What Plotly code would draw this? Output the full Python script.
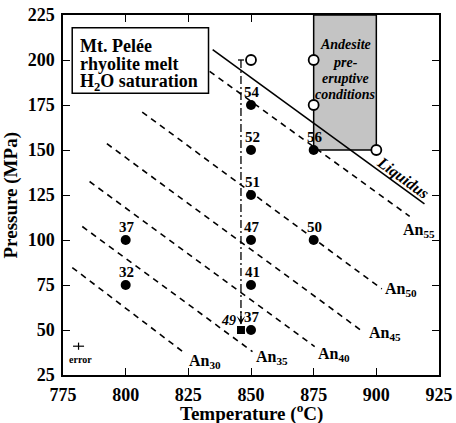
import plotly.graph_objects as go

# ---------------- data ----------------
filled_T = [800, 800, 850, 850, 850, 850, 850, 850, 875, 875]
filled_P = [100, 75, 175, 150, 125, 100, 75, 50, 150, 100]
filled_lbl = ["37", "32", "54", "52", "51", "47", "41", "37", "56", "50"]

open_T = [850, 875, 875, 900]
open_P = [200, 200, 175, 150]

square_T = [846]
square_P = [50]
square_lbl = ["49"]

# An isopleths: start / end (T, P)
iso_names = ["An<sub>30</sub>", "An<sub>35</sub>", "An<sub>40</sub>", "An<sub>45</sub>", "An<sub>50</sub>", "An<sub>55</sub>"]
iso_T0 = [778.7, 782.7, 785.6, 792.5, 806.6, 833.5]
iso_P0 = [84.7, 107.5, 132.5, 153.5, 171.1, 193.7]
iso_T1 = [823.5, 850.6, 875.4, 894.6, 902.2, 913.3]
iso_P1 = [37.2, 38.0, 40.8, 49.1, 72.8, 113.1]
iso_lblT = [831.5, 858.5, 883.0, 903.5, 910.0, 917.0]
iso_lblP = [32.5, 35.0, 36.5, 48.0, 72.3, 105.3]

liq_T = [834.7, 919.2]
liq_P = [205.8, 120.1]

vline_T = [846, 846]
vline_P = [200, 53]

box_T = [875, 900]
box_P = [150, 225]

andesite_lines = ["Andesite", "pre-", "eruptive", "conditions"]
andesite_P = [208.6, 198.6, 189.7, 180.8]

title_lines = ["Mt. Pelée", "rhyolite melt", "H<sub>2</sub>O saturation"]

err_T, err_P, err_dT, err_dP = 781.2, 41.0, 2.2, 2.0

x_ticks = [775, 800, 825, 850, 875, 900, 925]
y_ticks = [25, 50, 75, 100, 125, 150, 175, 200, 225]

font_fam = "Liberation Serif, Times New Roman, serif"
fig = go.Figure()

# grey pre-eruptive box
fig.add_shape(type="rect", x0=box_T[0], x1=box_T[1], y0=box_P[0], y1=box_P[1],
              fillcolor="#c4c4c4", line=dict(color="black", width=1.5), layer="below")

# isopleths
for i in range(len(iso_names)):
    fig.add_trace(go.Scatter(x=[iso_T0[i], iso_T1[i]], y=[iso_P0[i], iso_P1[i]], mode="lines",
                             line=dict(color="black", width=1.6, dash="6px,5px"),
                             showlegend=False, hoverinfo="skip"))
    fig.add_annotation(x=iso_lblT[i], y=iso_lblP[i], text="<b>" + iso_names[i] + "</b>",
                       showarrow=False, font=dict(family=font_fam, size=16, color="black"))

# liquidus
fig.add_trace(go.Scatter(x=liq_T, y=liq_P, mode="lines", line=dict(color="black", width=1.6),
                         showlegend=False, hoverinfo="skip"))
fig.add_annotation(x=910.6, y=134.5, text="<b><i>Liquidus</i></b>", showarrow=False, textangle=36,
                   font=dict(family=font_fam, size=16, color="black"))

# vertical dash-dot line with cap and arrow
fig.add_trace(go.Scatter(x=vline_T, y=vline_P, mode="lines",
                         line=dict(color="black", width=1.3, dash="8px,3px,2px,3px"),
                         showlegend=False, hoverinfo="skip"))
fig.add_trace(go.Scatter(x=[vline_T[0] - 1.2, vline_T[0] + 1.2], y=[vline_P[0], vline_P[0]], mode="lines",
                         line=dict(color="black", width=1.3), showlegend=False, hoverinfo="skip"))
fig.add_annotation(x=vline_T[1], y=vline_P[1], ax=vline_T[1], ay=vline_P[1] + 8, axref="x", ayref="y",
                   xref="x", yref="y", showarrow=True, arrowhead=3, arrowsize=1.2, arrowwidth=1.2,
                   arrowcolor="black", text="")

# filled points
fig.add_trace(go.Scatter(x=filled_T, y=filled_P, mode="markers",
                         marker=dict(color="black", size=10, symbol="circle"),
                         showlegend=False, hoverinfo="skip"))
for t, p, l in zip(filled_T, filled_P, filled_lbl):
    fig.add_annotation(x=t, y=p, text="<b>" + l + "</b>", showarrow=False, yshift=13, xshift=1,
                       font=dict(family=font_fam, size=15, color="black"))

# open points
fig.add_trace(go.Scatter(x=open_T, y=open_P, mode="markers",
                         marker=dict(color="white", size=10, symbol="circle",
                                     line=dict(color="black", width=1.8)),
                         showlegend=False, hoverinfo="skip"))

# square
fig.add_trace(go.Scatter(x=square_T, y=square_P, mode="markers",
                         marker=dict(color="black", size=8, symbol="square"),
                         showlegend=False, hoverinfo="skip"))
fig.add_annotation(x=square_T[0], y=square_P[0], text="<b><i>" + square_lbl[0] + "</i></b>",
                   showarrow=False, xshift=-12, yshift=10,
                   font=dict(family=font_fam, size=14, color="black"))

# error cross
fig.add_trace(go.Scatter(x=[err_T - err_dT, err_T + err_dT, None, err_T, err_T],
                         y=[err_P, err_P, None, err_P - err_dP, err_P + err_dP], mode="lines",
                         line=dict(color="black", width=1.2), showlegend=False, hoverinfo="skip"))
fig.add_annotation(x=err_T + 0.8, y=err_P, text="<b>error</b>", showarrow=False, yshift=-13,
                   font=dict(family=font_fam, size=10, color="black"))

# title box
fig.add_shape(type="rect", xref="paper", yref="paper", x0=0.0245, x1=0.387, y0=0.7825, y1=0.9647,
              fillcolor="white", line=dict(color="black", width=1.5))
for txt, yy in zip(title_lines, [0.914, 0.864, 0.812]):
    fig.add_annotation(xref="paper", yref="paper", x=0.041, y=yy, xanchor="left", yanchor="middle",
                       text="<b>" + txt + "</b>", showarrow=False,
                       font=dict(family=font_fam, size=18, color="black"))

# andesite text
for txt, pp in zip(andesite_lines, andesite_P):
    fig.add_annotation(x=887.6, y=pp, text="<b><i>" + txt + "</i></b>", showarrow=False,
                       font=dict(family=font_fam, size=14, color="black"))

# axis titles
fig.add_annotation(xref="paper", yref="paper", x=0.5, y=-0.103, yanchor="middle", showarrow=False,
                   text="<b>Temperature (<sup>o</sup>C)</b>",
                   font=dict(family=font_fam, size=19, color="black"))
fig.add_annotation(xref="paper", yref="paper", x=-0.137, y=0.5, xanchor="center", showarrow=False,
                   textangle=-90, text="<b>Pressure (MPa)</b>",
                   font=dict(family=font_fam, size=19, color="black"))

axis_common = dict(showline=True, linecolor="black", linewidth=1.5, mirror="ticks", ticks="inside",
                   ticklen=7, tickwidth=1.3, tickcolor="black", showgrid=False, zeroline=False,
                   automargin=False,
                   tickfont=dict(family=font_fam, size=18, color="black"))

fig.update_xaxes(range=[775, 925], tickvals=x_ticks, ticktext=["<b>%d</b>" % v for v in x_ticks],
                 ticklabelstandoff=3, **axis_common)
fig.update_yaxes(range=[25, 225], tickvals=y_ticks, ticktext=["<b>%d</b>" % v for v in y_ticks],
                 ticklabelstandoff=3, **axis_common)

fig.update_layout(width=456, height=423, margin=dict(l=63, r=17, t=15, b=48, autoexpand=False),
                  plot_bgcolor="white", paper_bgcolor="white")

fig.write_html("out.html", config={"displayModeBar": False},
               post_script="document.body.style.margin='0';document.body.style.overflow='hidden';")
